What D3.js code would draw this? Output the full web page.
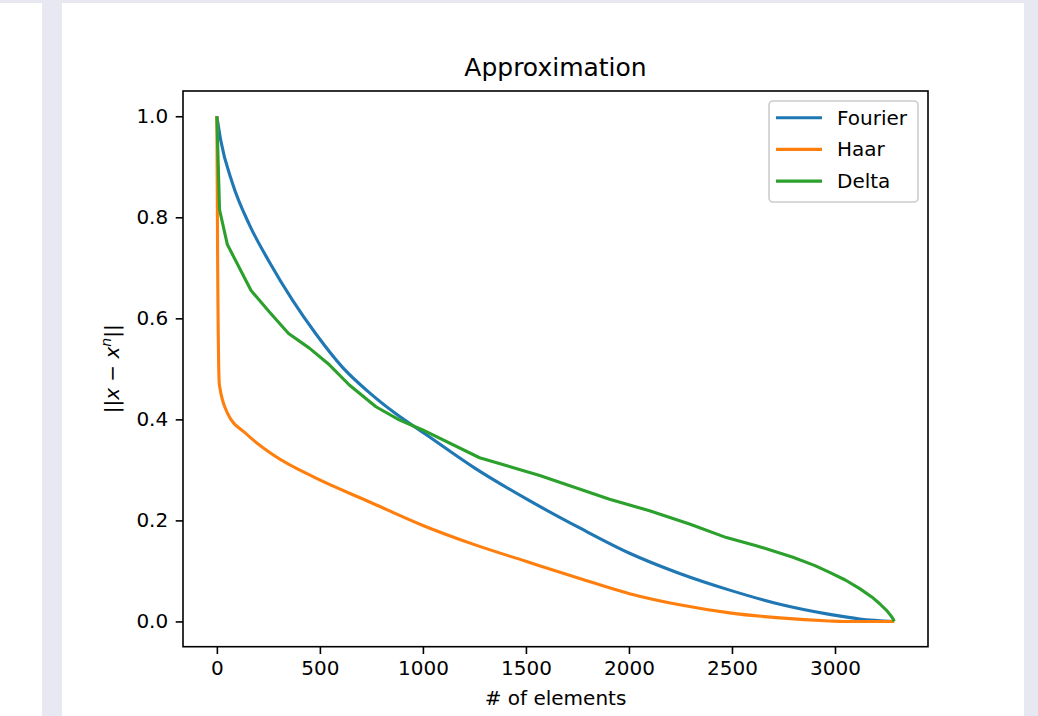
<!DOCTYPE html>
<html>
<head>
<meta charset="utf-8">
<script src="https://cdn.jsdelivr.net/npm/d3@7"></script>
<style>
  body { margin: 0; background: #e8e8f2; }
  svg { display: block; }
  text { font-family: "DejaVu Sans", sans-serif; fill: #000; }
</style>
</head>
<body>
<svg id="chart" width="1038" height="716"></svg>
<script>
// values
const fourierX = [0, 19, 76, 157, 254, 367, 481, 610, 740, 869, 1015, 1250, 1500, 1761, 2003, 2246, 2489, 2732, 2974, 3120, 3287];
const fourierY = [1.0, 0.952, 0.867, 0.786, 0.712, 0.636, 0.569, 0.503, 0.453, 0.411, 0.370, 0.304, 0.243, 0.185, 0.135, 0.095, 0.062, 0.034, 0.014, 0.005, 0.0];

const haarX = [0, 4, 12, 52, 141, 280, 474, 750, 1000, 1250, 1500, 1761, 2003, 2246, 2489, 2732, 2974, 3040, 3287];
const haarY = [1.0, 0.70, 0.469, 0.412, 0.372, 0.328, 0.285, 0.235, 0.19, 0.152, 0.119, 0.085, 0.055, 0.033, 0.017, 0.007, 0.001, 0.0, 0.0];

const deltaX = [0, 13, 51, 166, 254, 348, 449, 546, 643, 772, 885, 999, 1275, 1567, 1906, 2100, 2294, 2473, 2618, 2796, 2900, 2974, 3050, 3120, 3180, 3217, 3250, 3270, 3282, 3287];
const deltaY = [1.0, 0.815, 0.746, 0.655, 0.613, 0.570, 0.541, 0.508, 0.468, 0.425, 0.399, 0.379, 0.324, 0.289, 0.242, 0.219, 0.193, 0.166, 0.150, 0.127, 0.111, 0.097, 0.082, 0.065, 0.048, 0.035, 0.022, 0.012, 0.005, 0.0];

const seriesNames = ['Fourier', 'Haar', 'Delta'];
const xTicks = [0, 500, 1000, 1500, 2000, 2500, 3000];
const yTicks = [0.0, 0.2, 0.4, 0.6, 0.8, 1.0];

const colors = ['#1f77b4', '#ff7f0e', '#2ca02c'];

const svg = d3.select('#chart');

// page panels
svg.append('rect').attr('x', 0).attr('y', 3).attr('width', 42).attr('height', 713).attr('fill', '#fff');
svg.append('rect').attr('x', 62).attr('y', 3).attr('width', 962).attr('height', 713).attr('fill', '#fff');

const plot = {left: 183, right: 928, top: 91, bottom: 646.7};

const x = d3.scaleLinear().domain([-164.35, 3451.35]).range([plot.left, plot.right]);
const y = d3.scaleLinear().domain([-0.05, 1.05]).range([plot.bottom, plot.top]);

const series = [
    {name: seriesNames[0], xs: fourierX, ys: fourierY, curve: d3.curveMonotoneX},
    {name: seriesNames[1], xs: haarX, ys: haarY, curve: d3.curveMonotoneX},
    {name: seriesNames[2], xs: deltaX, ys: deltaY, curve: d3.curveLinear}
];

series.forEach((s, i) => {
    const line = d3.line().x(d => x(d[0])).y(d => y(d[1])).curve(s.curve);
    svg.append('path')
        .datum(s.xs.map((v, k) => [v, s.ys[k]]))
        .attr('d', line)
        .attr('fill', 'none')
        .attr('stroke', colors[i])
        .attr('stroke-width', 3.1)
        .attr('stroke-linejoin', 'round')
        .attr('stroke-linecap', 'butt');
});

// axes
const xAxis = svg.append('g')
    .attr('transform', 'translate(0,' + plot.bottom + ')')
    .call(d3.axisBottom(x).tickValues(xTicks).tickFormat(d3.format('d')).tickSizeInner(7.3).tickSizeOuter(0).tickPadding(7));
const yAxis = svg.append('g')
    .attr('transform', 'translate(' + plot.left + ',0)')
    .call(d3.axisLeft(y).tickValues(yTicks).tickFormat(d3.format('.1f')).tickSizeInner(7.3).tickSizeOuter(0).tickPadding(7.5));

[xAxis, yAxis].forEach(a => {
    a.select('.domain').remove();
    a.selectAll('line').attr('stroke', '#000').attr('stroke-width', 1.6);
    a.selectAll('text').attr('font-size', '20px').attr('font-family', '"DejaVu Sans", sans-serif').attr('fill', '#000');
});

// frame
svg.append('rect')
    .attr('x', plot.left).attr('y', plot.top)
    .attr('width', plot.right - plot.left).attr('height', plot.bottom - plot.top)
    .attr('fill', 'none').attr('stroke', '#000').attr('stroke-width', 1.6);

// title and labels
svg.append('text')
    .attr('x', (plot.left + plot.right) / 2).attr('y', 76)
    .attr('text-anchor', 'middle').attr('font-size', '25px')
    .text('Approximation');

svg.append('text')
    .attr('x', (plot.left + plot.right) / 2).attr('y', 705)
    .attr('text-anchor', 'middle').attr('font-size', '20px')
    .text('# of elements');

const yl = svg.append('text')
    .attr('transform', 'translate(119,' + (plot.top + plot.bottom) / 2 + ') rotate(-90)')
    .attr('text-anchor', 'middle').attr('font-size', '20px');
yl.append('tspan').text('||');
yl.append('tspan').attr('font-style', 'italic').text('x');
yl.append('tspan').text(' \u2212 ');
yl.append('tspan').attr('font-style', 'italic').text('x');
yl.append('tspan').attr('font-style', 'italic').attr('font-size', '14px').attr('dy', -8).text('n');
yl.append('tspan').attr('dy', 8).text('||');

// legend
const lg = svg.append('g');
lg.append('rect')
    .attr('x', 769).attr('y', 101).attr('width', 149).attr('height', 101)
    .attr('rx', 4).attr('fill', '#fff').attr('fill-opacity', 0.8)
    .attr('stroke', '#ccc').attr('stroke-width', 1.6);
seriesNames.forEach((n, i) => {
    const cy = 117.7 + i * 31.7;
    lg.append('line')
        .attr('x1', 776).attr('x2', 822).attr('y1', cy).attr('y2', cy)
        .attr('stroke', colors[i]).attr('stroke-width', 3.1);
    lg.append('text')
        .attr('x', 837).attr('y', cy + 7).attr('font-size', '20px')
        .text(n);
});
</script>
</body>
</html>
